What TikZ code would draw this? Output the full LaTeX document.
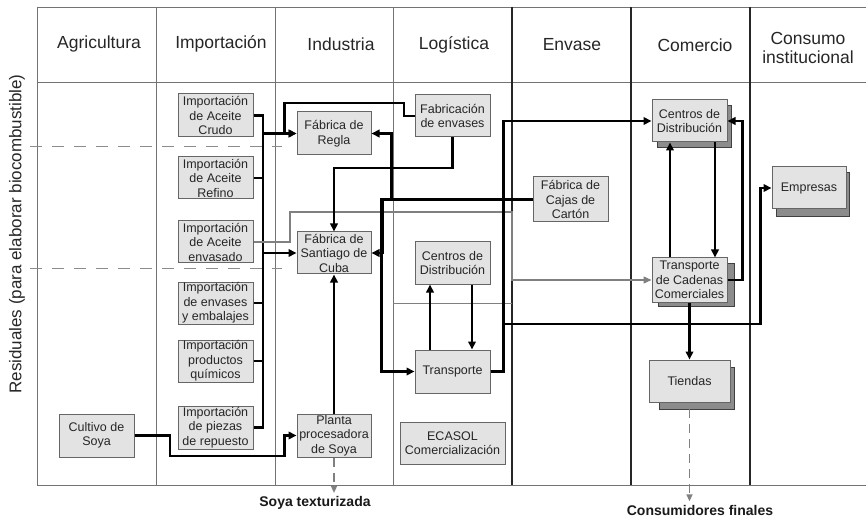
\documentclass[tikz,border=0pt]{standalone}
\usepackage{fontspec}
\setmainfont{Liberation Sans}
\usetikzlibrary{arrows.meta,calc}
\newcommand\bxfont{\fontsize{12.5}{14.5}\selectfont}
\newcommand\hdfont{\fontsize{17.5}{18.5}\selectfont}
\begin{document}
\begin{tikzpicture}[x=1pt,y=-1pt,
  box/.style={draw=black!60, fill=black!11, line width=1pt, inner sep=0pt, align=center, font=\bxfont, text=black!85},
  shadowbox/.style={draw=black!75, fill=black!45, line width=0.9pt},
  conn/.style={line width=2.1pt, -{Triangle[length=8pt,width=7.5pt]}},
  plainline/.style={line width=2.1pt},
  grayconn/.style={draw=black!50, line width=1.2pt, -{Triangle[length=8pt,width=7pt]}},
  grayline/.style={draw=black!50, line width=1pt},
  dashconn/.style={draw=black!50, line width=1.4pt, dash pattern=on 9pt off 6pt, -{Triangle[length=7pt,width=6pt]}},
  header/.style={font=\hdfont, text=black!85, align=center},
  lightgrid/.style={draw=black!55, line width=0.9pt},
  darkgrid/.style={draw=black!85, line width=1.4pt},
  divide/.style={draw=black!45, line width=1pt, dash pattern=on 12pt off 10pt},
  bottomlabel/.style={font=\bfseries\fontsize{14}{16}\selectfont, text=black!90}
]
\useasboundingbox (0,0) rectangle (866,518);

% table frame
\draw[lightgrid] (37,7) -- (866,7);
\draw[lightgrid] (37,82) -- (866,82);
\draw[lightgrid] (37,485) -- (866,485);
\draw[lightgrid] (37,7) -- (37,485);
\foreach \xx in {156,275,393} \draw[lightgrid] (\xx,7) -- (\xx,485);
\foreach \xx in {512,631,750} \draw[darkgrid] (\xx,7) -- (\xx,485);

% dashed dividers
\draw[divide] (30,147) -- (282,147);
\draw[divide] (30,269) -- (282,269);

% headers
\node[header] (hAgr) at (99,44) {Agricultura};
\node[header] (hImp) at (221,44) {Importación};
\node[header] (hInd) at (341,44) {Industria};
\node[header] (hLog) at (454,45) {Logística};
\node[header] (hEnv) at (572,45) {Envase};
\node[header] (hCom) at (695,45) {Comercio};
\node[header] (hCons) at (808,48) {Consumo\\institucional};

\node[rotate=90, font=\fontsize{17}{19}\selectfont, text=black!85] (resid) at (17,234) {Residuales (para elaborar biocombustible)};

% shadows
\node[shadowbox, minimum width=74pt, minimum height=42pt] (cdcomS) at (694,126) {};
\node[shadowbox, minimum width=76pt, minimum height=43pt] (tccS) at (696,284.5) {};
\node[shadowbox, minimum width=75pt, minimum height=42pt] (tiendasS) at (696.5,388) {};
\node[shadowbox, minimum width=73pt, minimum height=44pt] (empresasS) at (812.5,194) {};

% boxes
\node[box, minimum width=75pt, minimum height=43pt] (crudo) at (215.5,115.5) {Importación\\de Aceite\\Crudo};
\node[box, minimum width=75pt, minimum height=42pt] (refino) at (215.5,178) {Importación\\de Aceite\\Refino};
\node[box, minimum width=75pt, minimum height=42pt] (envasado) at (215.5,242) {Importación\\de Aceite\\envasado};
\node[box, minimum width=75pt, minimum height=42pt] (embalajes) at (215.5,303) {Importación\\de envases\\y embalajes};
\node[box, minimum width=75pt, minimum height=42pt] (quimicos) at (215.5,361) {Importación\\productos\\químicos};
\node[box, minimum width=75pt, minimum height=43pt] (piezas) at (215.5,427.5) {Importación\\de piezas\\de repuesto};
\node[box, minimum width=75pt, minimum height=43pt] (cultivo) at (96.5,435.5) {Cultivo de\\Soya};
\node[box, minimum width=74pt, minimum height=43pt] (regla) at (334,133.5) {Fábrica de\\Regla};
\node[box, minimum width=74pt, minimum height=42pt] (santiago) at (334,253) {Fábrica de\\Santiago de\\Cuba};
\node[box, minimum width=74pt, minimum height=43pt] (planta) at (334,435.5) {Planta\\procesadora\\de Soya};
\node[box, minimum width=75pt, minimum height=42pt] (fabenv) at (452.5,116) {Fabricación\\de envases};
\node[box, minimum width=75pt, minimum height=42pt] (cdlog) at (452.5,263) {Centros de\\Distribución};
\node[box, minimum width=75pt, minimum height=43pt] (transp) at (452.5,371.5) {Transporte};
\node[box, minimum width=105pt, minimum height=42pt] (ecasol) at (452.5,443) {ECASOL\\Comercialización};
\node[box, minimum width=75pt, minimum height=45pt] (cajas) at (570.5,199.5) {Fábrica de\\Cajas de\\Cartón};
\node[box, minimum width=75pt, minimum height=42pt] (cdcom) at (689.5,121) {Centros de\\Distribución};
\node[box, minimum width=75pt, minimum height=44pt] (tcc) at (689.5,280) {Transporte\\de Cadenas\\Comerciales};
\node[box, minimum width=81pt, minimum height=42pt] (tiendas) at (689.5,381) {Tiendas};
\node[box, minimum width=74pt, minimum height=42pt] (empresas) at (809,188) {Empresas};

% bottom labels
\node[bottomlabel] (soyatext) at (315,503) {Soya texturizada};
\node[bottomlabel] (consum) at (700,510) {Consumidores finales};

% import bus
\coordinate (busT) at (263,116);
\draw[plainline] (crudo.east) -| (busT |- piezas.east) -- (piezas.east);
\foreach \b in {refino,embalajes,quimicos} \draw[plainline] (\b.east) -- (\b.east -| busT);
\draw[conn] (regla.west -| busT) -- (regla.west);
\draw[conn] (santiago.west -| busT) -- (santiago.west);

% aceite envasado (gray) to transporte de cadenas
\coordinate (g1) at (290,212);
\coordinate (g2) at (512,212);
\draw[grayconn] (envasado.east) -| (g1) -- (g2) |- (tcc.west);
\draw[grayline] (393,303) -- (512,303);

% fabricacion de envases
\draw[conn] (fabenv.west) -| (404,103) -| ($(regla.west)+(-12,0)$) -- (regla.west);
\coordinate (f1) at (334,168);
\draw[conn] (fabenv.south) |- (f1) -- (santiago.north);

% fabrica de cajas
\draw[conn] (cajas.west) -| ($(regla.east)+(20,0)$) -- (regla.east);
\draw[conn] (cajas.west) -| ($(santiago.east)+(11,0)$) -- (santiago.east);
\draw[conn] (cajas.west) -| ($(transp.west)+(-33,0)$) -- (transp.west);

% soya
\draw[conn] (planta.north) -- (santiago.south);
\draw[conn] (cultivo.east) -| (170,456) -| ($(planta.west)+(-12,0)$) -- (planta.west);
\draw[dashconn] (planta.south) -- (planta.south |- soyatext.north);

% logistica
\draw[conn] ($(transp.north)+(-22.5,0)$) -- ($(cdlog.south)+(-22.5,0)$);
\draw[conn] ($(cdlog.south)+(19.5,0)$) -- ($(transp.north)+(19.5,0)$);
\draw[conn] (transp.east) -| ($(cdcom.west)+(-148,0)$) -- (cdcom.west);
\draw[conn] (transp.east) -| (504,324) -| ($(empresas.west)+(-11,0)$) -- (empresas.west);

% comercio
\draw[conn] ($(tcc.north)+(-19.5,0)$) -- ($(cdcom.south)+(-19.5,0)$);
\draw[conn] ($(cdcom.south)+(25.5,0)$) -- ($(tcc.north)+(25.5,0)$);
\draw[conn] (tcc.east) -| ($(cdcom.east)+(15,0)$) -- (cdcom.east);
\draw[conn] (tcc.south) -- (tiendas.north);
\draw[dashconn] (tiendas.south |- tiendasS.south) -- (tiendas.south |- consum.north);
\end{tikzpicture}
\end{document}
